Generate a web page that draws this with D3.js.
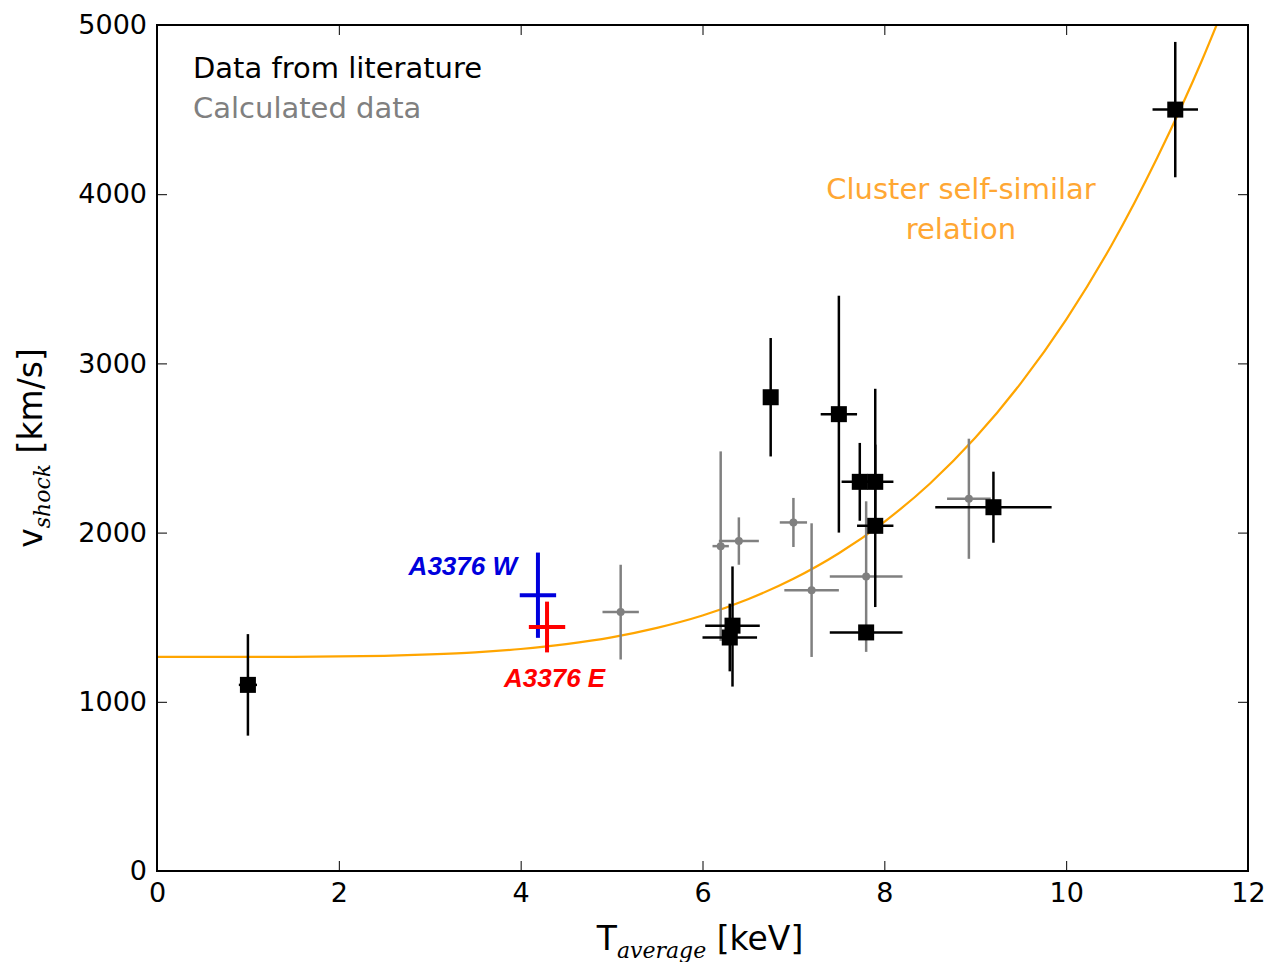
<!DOCTYPE html>
<meta charset="utf-8">
<script src="https://d3js.org/d3.v7.min.js"></script>
<style>
  body { margin: 0; background: #fff; font-family: "DejaVu Sans", sans-serif; }
  .tick text { font-size: 27px; font-family: "DejaVu Sans", sans-serif; fill: #000; }
</style>
<body>
<div id="viz"></div>
<script>
const width = 1270, height = 962;
const margin = {left: 157, right: 22, top: 25, bottom: 91};

// literature data (black squares): T, v, T err, v err (lo, hi)
const litT    = [1.0, 6.75, 7.5, 7.73, 7.9, 7.9, 7.8, 6.33, 6.3, 9.2, 11.2];
const litV    = [1100, 2800, 2700, 2300, 2300, 2040, 1410, 1450, 1380, 2150, 4500];
const litTerr = [0.1, 0, 0.2, 0.2, 0.2, 0.2, 0.4, 0.3, 0.3, 0.64, 0.25];
const litVlo  = [300, 350, 700, 230, 250, 480, 0, 360, 200, 210, 400];
const litVhi  = [300, 350, 700, 230, 550, 480, 0, 350, 200, 210, 400];

// calculated data (grey dots)
const calT    = [5.1, 6.2, 6.4, 7.0, 7.2, 7.8, 8.93];
const calV    = [1530, 1920, 1950, 2060, 1660, 1740, 2200];
const calTerr = [0.2, 0.09, 0.22, 0.15, 0.3, 0.4, 0.24];
const calVerr = [280, 560, 140, 145, 395, 445, 355];

// A3376 relics
const relNames = ["A3376 W", "A3376 E"];
const relColors = ["#0000dd", "#ff0000"];
const relT    = [4.19, 4.29];
const relV    = [1630, 1442];
const relTerr = [0.2, 0.2];
const relVerr = [252, 150];

// self-similar relation
const relT_curve = [0, 0.5, 1, 1.5, 2, 2.5, 3, 3.5, 4, 4.5, 5, 5.5, 6, 6.5, 7, 7.5, 8, 8.5, 9, 9.5, 10, 10.5, 11, 11.5, 11.7];
const relV_curve = [1265, 1265, 1265, 1266, 1268, 1272, 1280, 1292, 1312, 1341, 1381, 1437, 1510, 1606, 1727, 1878, 2064, 2289, 2560, 2882, 3259, 3700, 4214, 4799, 5060];

const xTicks = [0, 2, 4, 6, 8, 10, 12];
const yTicks = [0, 1000, 2000, 3000, 4000, 5000];

const x = d3.scaleLinear().domain([0, 12]).range([margin.left, width - margin.right]);
const y = d3.scaleLinear().domain([0, 5000]).range([height - margin.bottom, margin.top]);

const svg = d3.select("#viz").append("svg")
  .attr("width", width).attr("height", height);

svg.append("clipPath").attr("id", "clip").append("rect")
  .attr("x", x(0)).attr("y", y(5000))
  .attr("width", x(12) - x(0)).attr("height", y(0) - y(5000));

// axes with inward ticks on all four sides
const tl = 10;
svg.append("g").attr("transform", `translate(0,${y(0)})`)
  .call(d3.axisBottom(x).tickValues(xTicks).tickSize(-tl).tickPadding(12).tickFormat(d3.format("d")))
  .call(g => g.select(".domain").remove());
svg.append("g").attr("transform", `translate(0,${y(5000)})`)
  .call(d3.axisTop(x).tickValues(xTicks).tickSize(-tl).tickFormat(""))
  .call(g => g.select(".domain").remove());
svg.append("g").attr("transform", `translate(${x(0)},0)`)
  .call(d3.axisLeft(y).tickValues(yTicks).tickSize(-tl).tickPadding(10).tickFormat(d3.format("d")))
  .call(g => g.select(".domain").remove());
svg.append("g").attr("transform", `translate(${x(12)},0)`)
  .call(d3.axisRight(y).tickValues(yTicks).tickSize(-tl).tickFormat(""))
  .call(g => g.select(".domain").remove());
svg.selectAll(".tick line").attr("stroke", "#000").attr("stroke-width", 1);

const plot = svg.append("g").attr("clip-path", "url(#clip)");

// curve
plot.append("path")
  .datum(relT_curve.map((t, i) => [t, relV_curve[i]]))
  .attr("fill", "none").attr("stroke", "#ffa500").attr("stroke-width", 2.2)
  .attr("d", d3.line().x(d => x(d[0])).y(d => y(d[1])).curve(d3.curveMonotoneX));

function errbars(g, T, V, Te, Vlo, Vhi, color, w) {
  T.forEach((t, i) => {
    if (Te[i] > 0)
      g.append("line").attr("x1", x(t - Te[i])).attr("x2", x(t + Te[i]))
        .attr("y1", y(V[i])).attr("y2", y(V[i]))
        .attr("stroke", color).attr("stroke-width", w);
    if (Vlo[i] > 0 || Vhi[i] > 0)
      g.append("line").attr("x1", x(t)).attr("x2", x(t))
        .attr("y1", y(V[i] - Vlo[i])).attr("y2", y(V[i] + Vhi[i]))
        .attr("stroke", color).attr("stroke-width", w);
  });
}

// calculated (grey)
errbars(plot, calT, calV, calTerr, calVerr, calVerr, "#808080", 2.5);
plot.selectAll(".cal").data(calT).enter().append("circle")
  .attr("cx", d => x(d)).attr("cy", (d, i) => y(calV[i])).attr("r", 4)
  .attr("fill", "#808080");

// literature (black)
errbars(plot, litT, litV, litTerr, litVlo, litVhi, "#000", 2.5);
const sq = 16;
plot.selectAll(".lit").data(litT).enter().append("rect")
  .attr("x", d => x(d) - sq / 2).attr("y", (d, i) => y(litV[i]) - sq / 2)
  .attr("width", sq).attr("height", sq).attr("fill", "#000");

// relics
relT.forEach((t, i) => {
  errbars(plot, [t], [relV[i]], [relTerr[i]], [relVerr[i]], [relVerr[i]], relColors[i], 4);
});

// frame
svg.append("rect").attr("x", x(0)).attr("y", y(5000))
  .attr("width", x(12) - x(0)).attr("height", y(0) - y(5000))
  .attr("fill", "none").attr("stroke", "#000").attr("stroke-width", 2);

// relic labels
svg.append("text").attr("x", 517).attr("y", 575)
  .attr("text-anchor", "end")
  .style("font", "italic bold 26px 'Liberation Sans', Arial, sans-serif")
  .attr("fill", relColors[0]).text(relNames[0]);
svg.append("text").attr("x", 504).attr("y", 687)
  .attr("text-anchor", "start")
  .style("font", "italic bold 26px 'Liberation Sans', Arial, sans-serif")
  .attr("fill", relColors[1]).text(relNames[1]);

// legend text
svg.append("text").attr("x", 193).attr("y", 78)
  .style("font-size", "29px").attr("fill", "#000").text("Data from literature");
svg.append("text").attr("x", 193).attr("y", 118)
  .style("font-size", "29px").attr("fill", "#808080").text("Calculated data");

// curve annotation
const ann = svg.append("text").attr("text-anchor", "middle")
  .style("font-size", "29px").attr("fill", "#ffa733");
ann.append("tspan").attr("x", 961).attr("y", 199).text("Cluster self-similar");
ann.append("tspan").attr("x", 961).attr("y", 239).text("relation");

// axis labels
const xl = svg.append("text").attr("x", 700).attr("y", 950).attr("text-anchor", "middle")
  .style("font-size", "33px").attr("fill", "#000");
xl.append("tspan").text("T");
xl.append("tspan").attr("dy", 8).style("font", "italic 22px 'DejaVu Serif', serif").text("average");
xl.append("tspan").attr("dy", -8).text(" [keV]");

const yl = svg.append("text").attr("transform", `translate(42,${(y(0) + y(5000)) / 2}) rotate(-90)`)
  .attr("text-anchor", "middle")
  .style("font-size", "33px").attr("fill", "#000");
yl.append("tspan").text("v");
yl.append("tspan").attr("dy", 8).style("font", "italic 22px 'DejaVu Serif', serif").text("shock");
yl.append("tspan").attr("dy", -8).text(" [km/s]");
</script>
</body>
